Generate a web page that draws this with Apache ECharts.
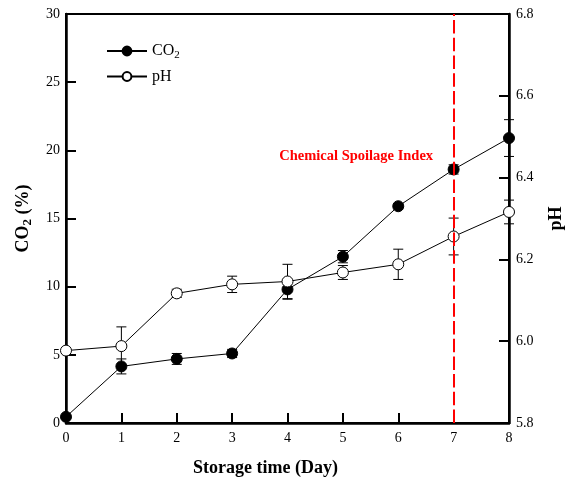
<!DOCTYPE html>
<html>
<head>
<meta charset="utf-8">
<script src="https://cdn.jsdelivr.net/npm/echarts@6/dist/echarts.min.js"></script>
<style>html,body{margin:0;padding:0;background:#fff}#c{width:567px;height:485px}</style>
</head>
<body>
<div id="c"></div>
<script>
const days = [0, 1, 2, 3, 4, 5, 6, 7, 8];
const co2 = [0.45, 4.15, 4.7, 5.1, 9.8, 12.2, 15.9, 18.6, 20.9];
const co2Err = [0.1, 0.55, 0.4, 0.3, 0.72, 0.45, 0.2, 0.34, 1.35];
const ph = [5.977, 5.988, 6.117, 6.139, 6.146, 6.168, 6.188, 6.256, 6.316];
const phErr = [0, 0.047, 0.01, 0.02, 0.042, 0.017, 0.037, 0.045, 0.029];
const xTicks = [0, 8, 1];
const co2Ticks = [0, 30, 5];
const phTicks = [5.8, 6.8, 0.2];
const spoilageDay = 7;
const spoilageLabel = 'Chemical Spoilage Index';
const spoilageLabelAt = [5.24, 19.6];

const FONT = '"Liberation Serif", "Times New Roman", serif';

function errData(vals, errs) {
  return days.map((d, i) => [d, vals[i] - errs[i], vals[i] + errs[i]]);
}
function errRender(params, api) {
  const x = api.value(0), lo = api.value(1), hi = api.value(2);
  if (hi - lo <= 0) return null;
  const a = api.coord([x, hi]);
  const b = api.coord([x, lo]);
  const w = 5;
  const st = { stroke: '#000', lineWidth: 1 };
  return {
    type: 'group',
    children: [
      { type: 'line', shape: { x1: a[0], y1: a[1], x2: b[0], y2: b[1] }, style: st },
      { type: 'line', shape: { x1: a[0] - w, y1: a[1], x2: a[0] + w, y2: a[1] }, style: st },
      { type: 'line', shape: { x1: b[0] - w, y1: b[1], x2: b[0] + w, y2: b[1] }, style: st }
    ]
  };
}

const chart = echarts.init(document.getElementById('c'));
chart.setOption({
  animation: false,
  textStyle: { fontFamily: FONT, color: '#000' },
  grid: { left: 66, right: 58, top: 14, bottom: 62, containLabel: false, outerBoundsMode: 'none',
    show: true, borderColor: '#000', borderWidth: 2, backgroundColor: 'transparent' },
  legend: {
    orient: 'vertical', left: 101, top: 38, itemWidth: 40, itemHeight: 11, itemGap: 8,
    data: ['CO2', 'pH'],
    formatter: n => n === 'CO2' ? 'CO{s|2}' : n,
    textStyle: { fontSize: 16, fontFamily: FONT, color: '#000', rich: {
      s: { fontSize: 11, fontFamily: FONT, padding: [8, 0, 0, 0], color: '#000' } } }
  },
  xAxis: {
    type: 'value', min: xTicks[0], max: xTicks[1], interval: xTicks[2],
    name: 'Storage time (Day)', nameLocation: 'middle', nameGap: 36,
    nameTextStyle: { fontSize: 18, fontWeight: 'bold', fontFamily: FONT, color: '#000', padding: [0, 44, 0, 0] },
    axisLine: { lineStyle: { color: '#000', width: 2.5 } },
    axisTick: { inside: true, length: 10, lineStyle: { color: '#000', width: 2 } },
    axisLabel: { fontSize: 14, fontFamily: FONT, color: '#000', margin: 8 },
    splitLine: { show: false }
  },
  yAxis: [{
    type: 'value', min: co2Ticks[0], max: co2Ticks[1], interval: co2Ticks[2], position: 'left',
    name: 'CO{b|2} (%)', nameLocation: 'middle', nameGap: 32, nameRotate: 90,
    nameTextStyle: { fontSize: 18, fontWeight: 'bold', fontFamily: FONT, color: '#000',
      rich: { b: { fontSize: 13, fontWeight: 'bold', fontFamily: FONT, padding: [8, 0, 0, 0], color: '#000' } } },
    axisLine: { show: true, lineStyle: { color: '#000', width: 2.5 } },
    axisTick: { inside: true, length: 10, lineStyle: { color: '#000', width: 2 } },
    axisLabel: { fontSize: 14, fontFamily: FONT, color: '#000', margin: 6 },
    splitLine: { show: false }
  }, {
    type: 'value', min: phTicks[0], max: phTicks[1], interval: phTicks[2], position: 'right',
    name: 'pH', nameLocation: 'middle', nameGap: 38, nameRotate: 90,
    nameTextStyle: { fontSize: 18, fontWeight: 'bold', fontFamily: FONT, color: '#000' },
    axisLine: { show: true, lineStyle: { color: '#000', width: 2.5 } },
    axisTick: { inside: true, length: 10, lineStyle: { color: '#000', width: 2 } },
    axisLabel: { fontSize: 14, fontFamily: FONT, color: '#000', margin: 7, formatter: v => v.toFixed(1) },
    splitLine: { show: false }
  }],
  series: [
    { type: 'custom', name: 'co2err', yAxisIndex: 0, z: 1, silent: true,
      data: errData(co2, co2Err), encode: { x: 0, y: [1, 2] }, renderItem: errRender },
    { type: 'custom', name: 'pherr', yAxisIndex: 1, z: 1, silent: true,
      data: errData(ph, phErr), encode: { x: 0, y: [1, 2] }, renderItem: errRender },
    { type: 'line', name: 'CO2', yAxisIndex: 0, z: 3,
      data: days.map((d, i) => [d, co2[i]]),
      symbol: 'circle', symbolSize: 11,
      lineStyle: { color: '#000', width: 1 },
      itemStyle: { color: '#000', borderColor: '#000', borderWidth: 1 },
      markPoint: { silent: true, symbol: 'circle', symbolSize: 0,
        data: [{ coord: spoilageLabelAt, value: spoilageLabel }],
        label: { show: true, position: 'inside', formatter: spoilageLabel, color: '#ff0000', fontSize: 14.5, fontWeight: 'bold', fontFamily: FONT } }
    },
    { type: 'line', name: 'pH', yAxisIndex: 1, z: 4,
      data: days.map((d, i) => [d, ph[i]]),
      symbol: 'circle', symbolSize: 11,
      lineStyle: { color: '#000', width: 1 },
      itemStyle: { color: '#fff', borderColor: '#000', borderWidth: 1 },
      markLine: { silent: true, symbol: 'none', z: 10, label: { show: false },
        lineStyle: { color: '#ff0000', width: 2, type: [13.5, 4.2] },
        data: [{ xAxis: spoilageDay }] }
    }
  ]
});
</script>
</body>
</html>
